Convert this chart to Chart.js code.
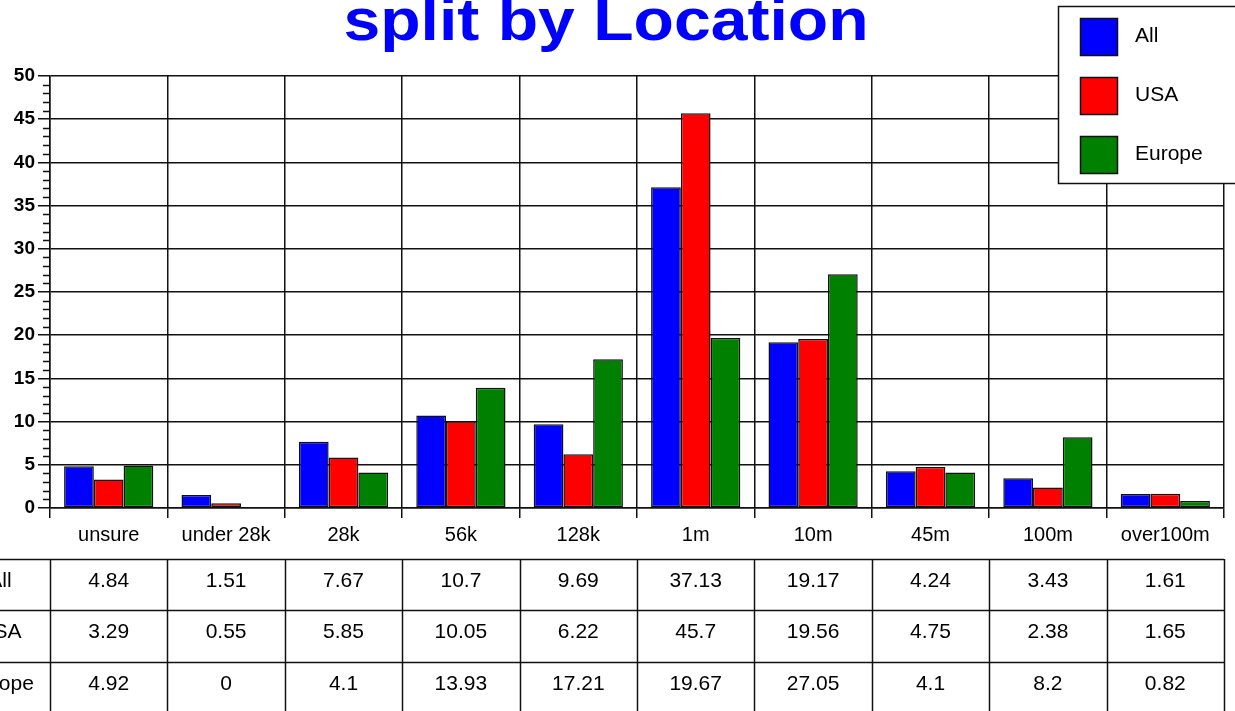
<!DOCTYPE html>
<html>
<head>
<meta charset="utf-8">
<title>split by Location</title>
<script src="https://cdn.jsdelivr.net/npm/chart.js@4.4.1/dist/chart.umd.min.js"></script>
<style>
  html, body { margin: 0; padding: 0; background: #fff; }
  #grafico { display: block; }
</style>
</head>
<body>
<canvas id="grafico" width="1235" height="711"></canvas>
<script>
// ---------- Dados ----------
const categorias = ['unsure', 'under 28k', '28k', '56k', '128k', '1m', '10m', '45m', '100m', 'over100m'];
const serieAll    = [4.84, 1.51, 7.67, 10.7, 9.69, 37.13, 19.17, 4.24, 3.43, 1.61];
const serieUSA    = [3.29, 0.55, 5.85, 10.05, 6.22, 45.7, 19.56, 4.75, 2.38, 1.65];
const serieEurope = [4.92, 0, 4.1, 13.93, 17.21, 19.67, 27.05, 4.1, 8.2, 0.82];
const nomesSeries = ['All', 'USA', 'Europe'];
const yMax = 50;
const titulo = 'split by Location';

const FONT = '"Liberation Sans", Arial, sans-serif';
const cores = ['#0000ff', '#ff0000', '#008000'];
const LINHA = '#111';

// ---------- Plugin: título, legenda, ticks menores e tabela ----------
const extras = {
  id: 'extras',
  afterDraw(chart){
    const ctx = chart.ctx;
    const area = chart.chartArea;
    const x = chart.scales.x;
    const y = chart.scales.y;
    ctx.save();

    // ticks menores do eixo y
    ctx.strokeStyle = LINHA;
    ctx.lineWidth = 1.5;
    ctx.beginPath();
    for(let v = 1; v < yMax; v++){
      if(v % 5 === 0) continue;
      const py = Math.round(y.getPixelForValue(v)) + 0.5;
      ctx.moveTo(area.left - 7, py);
      ctx.lineTo(area.left, py);
    }
    ctx.stroke();

    // título
    ctx.fillStyle = '#0000ff';
    ctx.font = 'bold 60px ' + FONT;
    ctx.textAlign = 'center';
    ctx.textBaseline = 'alphabetic';
    const w = ctx.measureText(titulo).width;
    ctx.save();
    ctx.translate(606, 40);
    ctx.scale(525 / w, 1);
    ctx.fillText(titulo, 0, 0);
    ctx.restore();

    // legenda
    ctx.fillStyle = '#fff';
    ctx.fillRect(1058, 6, 200, 177);
    ctx.strokeStyle = LINHA;
    ctx.strokeRect(1058.5, 6.5, 200, 177);
    ctx.font = '21px ' + FONT;
    ctx.textAlign = 'left';
    ctx.textBaseline = 'middle';
    chart.data.datasets.forEach((ds, i) => {
      const top = 18 + i * 59;
      ctx.fillStyle = ds.backgroundColor;
      ctx.fillRect(1080, top, 37, 37);
      ctx.strokeRect(1080.5, top + 0.5, 37, 37);
      ctx.fillStyle = '#000';
      ctx.fillText(ds.label, 1135, top + 18);
    });

    // tabela de dados
    const linhas = [559, 610, 662, 714];
    ctx.beginPath();
    for(const ly of linhas){
      ctx.moveTo(0, ly + 0.5);
      ctx.lineTo(area.right, ly + 0.5);
    }
    const n = categorias.length;
    const larg = (area.right - area.left) / n;
    const bordas = [];
    for(let i = 0; i < n; i++) bordas.push(x.getPixelForValue(i) - larg / 2);
    bordas.push(area.right);
    for(const bx of bordas){
      const px = Math.round(bx) + 0.5;
      ctx.moveTo(px, linhas[0]);
      ctx.lineTo(px, 711);
    }
    ctx.stroke();

    ctx.fillStyle = '#000';
    ctx.font = '21px ' + FONT;
    ctx.textAlign = 'center';
    ctx.textBaseline = 'middle';
    chart.data.datasets.forEach((ds, r) => {
      const cy = linhas[r] + 22;
      ctx.fillText(ds.label, 0, cy);
      ds.data.forEach((v, i) => {
        ctx.fillText(String(v), x.getPixelForValue(i), cy);
      });
    });

    ctx.restore();
  }
};

// ---------- Gráfico ----------
const series = [serieAll, serieUSA, serieEurope];

new Chart(document.getElementById('grafico'), {
  type: 'bar',
  data: {
    labels: categorias,
    datasets: series.map((d, i) => ({
      label: nomesSeries[i],
      data: d,
      backgroundColor: cores[i],
      borderColor: LINHA,
      borderWidth: 1.5,
      borderSkipped: false,
      categoryPercentage: 0.76,
      barPercentage: 1.0
    }))
  },
  options: {
    responsive: false,
    animation: false,
    layout: { padding: { top: 76, right: 11, left: 0, bottom: 0 } },
    plugins: {
      legend: { display: false },
      title: { display: false },
      tooltip: { enabled: false }
    },
    scales: {
      x: {
        afterFit: (s) => { s.height = 203; },
        border: { color: LINHA, width: 1.5 },
        grid: { color: LINHA, lineWidth: 1.5, offset: true, tickLength: 10 },
        ticks: { color: '#000', font: { family: FONT, size: 20 }, padding: 5, maxRotation: 0, autoSkip: false }
      },
      y: {
        min: 0,
        max: yMax,
        afterFit: (s) => { s.width = 50; },
        border: { color: LINHA, width: 1.5 },
        grid: { color: LINHA, lineWidth: 1.5, tickLength: 12 },
        ticks: { stepSize: 5, color: '#000', font: { family: FONT, size: 19, weight: 'bold' }, padding: 3 }
      }
    }
  },
  plugins: [extras]
});
</script>
</body>
</html>
